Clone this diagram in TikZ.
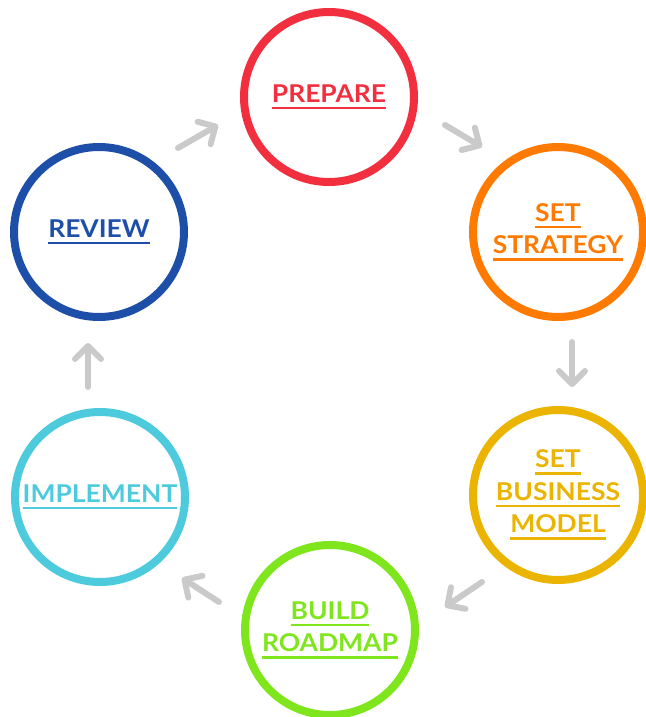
\documentclass[tikz,border=0pt]{standalone}
\usepackage{fontspec}
\setmainfont{Lato}[FakeStretch=1.08]
\usetikzlibrary{arrows.meta}
\tikzset{>={Straight Barb[length=13pt,width=26pt,round]}}

\definecolor{prepC}{RGB}{242,47,63}
\definecolor{stratC}{RGB}{255,122,0}
\definecolor{busiC}{RGB}{235,180,0}
\definecolor{roadC}{RGB}{127,230,30}
\definecolor{implC}{RGB}{77,203,221}
\definecolor{reviC}{RGB}{30,79,168}
\definecolor{flowC}{RGB}{202,202,202}

\newcommand{\ulword}[1]{\setbox0=\hbox{#1}\leavevmode\rlap{\vrule height -4.5pt depth 7pt width \wd0}\box0}

\begin{document}
\begin{tikzpicture}[x=1pt,y=-1pt,
    every text node part/.style={align=center},
    stage/.style={circle,draw=#1,text=#1,line width=8pt,minimum size=170pt,
      inner sep=0pt,font=\fontsize{24.5}{32.5}\selectfont\bfseries},
    flow/.style={->,draw=flowC,line width=6pt,line cap=round}]
      \useasboundingbox (0,0) rectangle (645,717);

      \node[stage=prepC]  (prepareN)  at (329,97)  {\ulword{PREPARE}};
      \node[stage=stratC] (strategyN) at (558,232) {\ulword{SET}\\\ulword{STRATEGY}};
      \node[stage=busiC]  (businessN) at (558,495) {\ulword{SET}\\\ulword{BUSINESS}\\\ulword{MODEL}};
      \node[stage=roadC]  (roadmapN)  at (330,630) {\ulword{BUILD}\\\ulword{ROADMAP}};
      \node[stage=implC]  (implementN) at (100,497) {\ulword{IMPLEMENT}};
      \node[stage=reviC]  (reviewN)   at (99,232)  {\ulword{REVIEW}};

      \coordinate (revPrepA)  at (178,148);
      \coordinate (revPrepB)  at (218,125);
      \coordinate (prepStrA)  at (445,125);
      \coordinate (prepStrB)  at (482,147);
      \coordinate (strBusA)   at (572,342);
      \coordinate (strBusB)   at (572,387);
      \coordinate (busRoadA)  at (482,582);
      \coordinate (busRoadB)  at (445,607);
      \coordinate (roadImplA) at (219,602);
      \coordinate (roadImplB) at (182,578);
      \coordinate (implRevA)  at (88,387);
      \coordinate (implRevB)  at (88,343);

      \draw[flow] (revPrepA)  -- (revPrepB);
      \draw[flow] (prepStrA)  -- (prepStrB);
      \draw[flow] (strBusA)   -- (strBusB);
      \draw[flow] (busRoadA)  -- (busRoadB);
      \draw[flow] (roadImplA) -- (roadImplB);
      \draw[flow] (implRevA)  -- (implRevB);
    \end{tikzpicture}
\end{document}
